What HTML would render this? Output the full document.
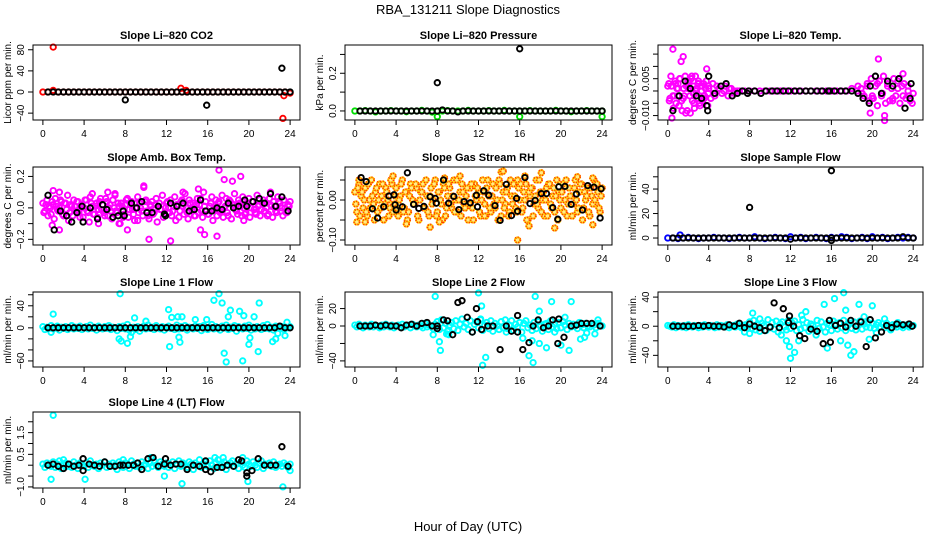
<!DOCTYPE html>
<html><head><meta charset="utf-8"><title>RBA_131211 Slope Diagnostics</title>
<style>html,body{margin:0;padding:0;background:#fff}svg{display:block;font-family:"Liberation Sans",Arial,sans-serif}</style>
</head><body>
<svg id="chart" width="936" height="540" viewBox="0 0 936 540" xmlns="http://www.w3.org/2000/svg">
<rect width="936" height="540" fill="#fff"/>
<text x="468" y="14" text-anchor="middle" font-size="13">RBA_131211  Slope Diagnostics</text>
<text x="468" y="531" text-anchor="middle" font-size="13">Hour of Day (UTC)</text>
</svg>
<script>
const HOURS=[0,0.5,1,1.5,2,2.5,3,3.5,4,4.5,5,5.5,6,6.5,7,7.5,8,8.5,9,9.5,10,10.5,11,11.5,12,12.5,13,13.5,14,14.5,15,15.5,16,16.5,17,17.5,18,18.5,19,19.5,20,20.5,21,21.5,22,22.5,23,23.5,24];
const BLACK_HOURS=[0.5,1,1.5,2,2.5,3,3.5,4,4.5,5,5.5,6,6.5,7,7.5,8,8.5,9,9.5,10,10.5,11,11.5,12,12.5,13,13.5,14,14.5,15,15.5,16,16.5,17,17.5,18,18.5,19,19.5,20,20.5,21,21.5,22,22.5,23,23.5,24];
const GRID_A=[0,0.2,0.4,0.6,0.8,1,1.2,1.4,1.6,1.8,2,2.2,2.4,2.6,2.8,3,3.2,3.4,3.6,3.8,4,4.2,4.4,4.6,4.8,5,5.2,5.4,5.6,5.8,6,6.2,6.4,6.6,6.8,7,7.2,7.4,7.6,7.8,8,8.2,8.4,8.6,8.8,9,9.2,9.4,9.6,9.8,10,10.2,10.4,10.6,10.8,11,11.2,11.4,11.6,11.8,12,12.2,12.4,12.6,12.8,13,13.2,13.4,13.6,13.8,14,14.2,14.4,14.6,14.8,15,15.2,15.4,15.6,15.8,16,16.2,16.4,16.6,16.8,17,17.2,17.4,17.6,17.8,18,18.2,18.4,18.6,18.8,19,19.2,19.4,19.6,19.8,20,20.2,20.4,20.6,20.8,21,21.2,21.4,21.6,21.8,22,22.2,22.4,22.6,22.8,23,23.2,23.4,23.6,23.8,24];
const GRID_B=[0.1,0.3,0.5,0.7,0.9,1.1,1.3,1.5,1.7,1.9,2.1,2.3,2.5,2.7,2.9,3.1,3.3,3.5,3.7,3.9,4.1,4.3,4.5,4.7,4.9,5.1,5.3,5.5,5.7,5.9,6.1,6.3,6.5,6.7,6.9,7.1,7.3,7.5,7.7,7.9,8.1,8.3,8.5,8.7,8.9,9.1,9.3,9.5,9.7,9.9,10.1,10.3,10.5,10.7,10.9,11.1,11.3,11.5,11.7,11.9,12.1,12.3,12.5,12.7,12.9,13.1,13.3,13.5,13.7,13.9,14.1,14.3,14.5,14.7,14.9,15.1,15.3,15.5,15.7,15.9,16.1,16.3,16.5,16.7,16.9,17.1,17.3,17.5,17.7,17.9,18.1,18.3,18.5,18.7,18.9,19.1,19.3,19.5,19.7,19.9,20.1,20.3,20.5,20.7,20.9,21.1,21.3,21.5,21.7,21.9,22.1,22.3,22.5,22.7,22.9,23.1,23.3,23.5,23.7,23.9];
const X_TICKS=[0,4,8,12,16,20,24];

const CO2_RED=[0,0,3,0,0,0,0,0,0,0,0,0,0,0,0,0,0,0,0,0,0,0,0,0,0,0,0,0,0,0,0,0,0,0,0,0,0,0,0,0,0,0,0,0,0,0,0,0,-2];
const CO2_RED_OUT_X=[1.0,13.4,13.9,23.3,23.4];
const CO2_RED_OUT_Y=[85,7,3,-50,-7];
const CO2_BLACK=[0,0,0,0,0,0,0,0,0,0,0,0,0,0,0,0,0,0,0,0,0,0,0,0,0,0,0,0,0,0,0,0,0,0,0,0,0,0,0,0,0,0,0,0,0,0,0,0];
const CO2_BLACK_OUT_X=[8.0,15.9,23.2];
const CO2_BLACK_OUT_Y=[-15,-25,45];
const PRES_GREEN=[0,0,0.002,0,-0.005,0,0,0.002,0,0,-0.004,0,0,0.003,0,-0.006,0,0,0.002,0,0,0,0.003,0,0,0,0.002,0,0,0.003,0,0,0,0,0.002,0,0,0,0,0.003,0,0,-0.004,0,0,0.002,0,0,0];
const PRES_GREEN_OUT_X=[8,16,24];
const PRES_GREEN_OUT_Y=[-0.03,-0.03,-0.03];
const PRES_BLACK=[0,0,0,0,0,0,0,0,0,0,0,0,0,0,0,0,0.005,0,0,-0.005,0,0,0,0,0,0,0,0,0,0,0,0,0,0,0,0,0,0,0,0,0,0,0,0,0,0,0,0];
const PRES_BLACK_OUT_X=[8,16];
const PRES_BLACK_OUT_Y=[0.15,0.33];
const TEMP_M1_X=[0.1,0.2,0.3,0.4,0.5,0.6,0.7,0.8,0.9,1.0,1.1,1.2,1.3,1.4,1.5,1.6,1.7,1.8,1.9,2.0,2.1,2.2,2.3,2.4,2.5,2.6,2.7,2.8,2.9,3.0,3.1,3.2,3.3,3.4,3.5,3.6,3.7,3.8,3.9,4.0,4.2,4.4,4.6,4.8,5.0,5.3,5.6,5.9,6.2,6.5,6.8];
const TEMP_M1_Y=[0.003,-0.003,0.006,-0.011,0.017,-0.002,0.004,-0.005,0.001,0.003,-0.006,0.005,0.012,-0.008,0.014,-0.002,0.006,0.002,-0.008,0.001,0.004,-0.009,0.005,-0.004,0.002,-0.007,0.006,0.001,-0.003,0.004,-0.005,0.002,0.000,-0.004,0.003,-0.002,0.001,0.009,-0.006,0.002,-0.003,0.003,-0.002,0.002,0.001,-0.001,0.002,-0.002,0.001,-0.001,0.000];
const TEMP_M2_X=[0.15,0.35,0.55,0.75,0.95,1.15,1.35,1.55,1.75,1.95,2.15,2.35,2.55,2.75,2.95,3.15,3.35,3.55,3.75,3.95,18.6,18.9,19.2,19.5,19.7,19.9,20.1,20.3,20.5,20.7,20.9,21.1,21.3,21.5,21.7,21.9,22.1,22.3,22.5,22.7,22.9,23.1,23.3,23.5,23.7,23.9,19.0,19.8,20.0,20.6,21.2,21.2,22.0,23.0,23.6];
const TEMP_M2_Y=[-0.004,0.002,-0.007,0.003,-0.002,0.005,-0.004,0.001,-0.009,0.004,-0.002,0.006,-0.005,0.000,0.003,-0.006,0.002,-0.003,0.004,-0.001,0.002,0.001,-0.002,0.003,-0.004,0.005,-0.003,0.002,-0.006,0.004,-0.002,0.006,-0.005,0.003,-0.004,0.001,0.005,-0.002,0.004,-0.005,0.002,0.003,-0.003,0.000,-0.004,-0.005,-0.001,-0.009,-0.003,0.013,-0.010,-0.012,-0.004,0.007,-0.002];
const TEMP_BAND=[0.002,-0.002,0.001,-0.003,0.002,-0.001,0.003,-0.002,0.001,-0.001,0.001,0.000,0.001,0.000,0.000,0.000,0.000,0.000,0.000,0.000,0.000,0.000,0.000,0.000,0.000,0.000,0.000,0.000,0.000,0.000,0.000,0.000,0.000,0.000,0.000,0.000,0.001,0.000,-0.001,0.002,-0.002,0.003,-0.001,0.002,-0.003,0.001,-0.002,0.002,-0.001];
const TEMP_BLACK_X=[0.5,1.1,1.7,2.2,2.8,3.3,3.8,3.9,4.0,4.6,5.2,5.7,6.3,6.8,7.3,7.8,7.9,8.5,9.1,9.6,10.2,10.7,11.3,11.8,12.4,12.9,13.5,14.0,14.6,15.1,15.7,15.8,16.3,16.9,17.4,18.0,18.6,19.1,19.7,19.8,20.3,20.9,21.5,22.0,22.6,23.2,23.7,23.8];
const TEMP_BLACK_Y=[-0.008,-0.002,0.004,0.001,-0.002,-0.003,-0.006,-0.008,0.006,-0.001,0.002,0.003,-0.002,-0.001,0.000,-0.001,0.000,0.000,-0.001,0.000,0.000,0.000,0.000,0.000,0.000,0.000,0.000,0.000,0.000,0.000,0.000,0.000,0.000,0.000,0.000,0.000,-0.001,-0.003,-0.005,0.002,0.006,-0.001,0.004,0.002,0.005,-0.007,-0.003,0.003];
const AMB_A=[0.03,-0.02,0.05,0.01,-0.04,0.02,0.06,-0.01,0.00,0.04,-0.05,0.03,0.08,-0.03,0.01,0.05,-0.02,0.04,-0.06,0.02,0.00,0.05,-0.03,0.07,0.01,-0.04,0.03,-0.01,0.06,0.02,-0.05,0.04,0.00,-0.02,0.05,0.09,-0.03,0.01,0.03,-0.06,0.02,0.06,-0.01,0.04,-0.04,0.00,0.07,0.03,-0.02,0.13,0.05,-0.05,0.02,0.04,-0.03,0.06,0.01,-0.01,0.08,-0.04,0.03,0.00,0.05,-0.02,0.07,0.02,-0.06,0.04,0.01,0.09,-0.03,0.05,0.00,0.03,-0.05,0.06,0.02,-0.02,0.10,0.04,-0.04,0.01,0.07,-0.01,0.05,0.03,-0.03,0.08,0.00,0.06,-0.05,0.04,0.02,0.09,-0.02,0.05,0.01,0.07,-0.04,0.03,0.06,0.00,0.04,-0.03,0.08,0.02,-0.01,0.05,0.03,-0.05,0.06,0.01,0.04,-0.02,0.07,0.03,0.00,0.05,-0.03,0.02,0.04];
const AMB_B=[-0.03,0.02,-0.05,0.00,0.04,-0.07,0.01,-0.02,0.05,-0.04,0.03,-0.01,-0.08,0.02,-0.05,0.01,0.04,-0.03,0.00,-0.06,0.05,-0.02,-0.09,0.03,-0.04,0.01,-0.06,0.04,-0.01,-0.03,0.06,-0.05,0.02,-0.07,0.00,-0.02,0.03,-0.10,0.01,-0.04,0.05,-0.06,0.02,-0.01,-0.08,0.03,-0.03,0.00,-0.05,0.04,-0.02,-0.07,0.01,-0.04,0.02,-0.09,0.03,-0.01,-0.06,0.00,0.04,-0.03,-0.05,0.01,-0.08,0.02,-0.02,0.05,-0.04,0.00,-0.07,0.03,-0.01,-0.05,0.02,-0.03,0.06,-0.06,0.01,-0.02,-0.04,0.03,-0.08,0.00,-0.05,0.04,-0.02,-0.06,0.01,-0.03,0.05,-0.07,0.02,-0.01,-0.04,0.03,-0.05,0.00,-0.03,0.02,-0.06,0.04,-0.01,-0.04,0.01,-0.05,0.03,-0.02,0.00,-0.04,0.02,-0.06,0.01,-0.03,0.04,-0.02,-0.05,0.00,-0.03,0.01];
const AMB_OUT_X=[1.0,1.6,0.9,1.6,4.8,6.3,7.0,8.2,9.8,10.3,12.4,13.6,15.1,15.3,15.7,16.9,17.1,17.6,18.4,19.2,19.5,22.1,7.4,5.4,9.2];
const AMB_OUT_Y=[0.11,0.10,-0.11,-0.14,0.09,0.10,0.08,-0.14,0.14,-0.20,-0.21,0.10,0.12,-0.14,-0.17,-0.18,0.24,0.18,0.17,0.20,-0.08,0.10,-0.10,-0.10,-0.08];
const AMB_BLACK_X=[0.5,1.1,1.7,2.3,2.8,3.3,3.8,3.9,4.6,5.3,5.8,6.2,6.8,7.3,7.8,7.9,8.6,9.1,9.6,10.1,10.6,11.2,11.8,11.9,12.4,13.0,13.6,14.2,14.7,15.3,15.8,16.4,16.9,17.4,18.0,18.5,19.0,19.6,19.8,20.4,21.0,21.5,22.1,22.6,23.2,23.8];
const AMB_BLACK_Y=[0.08,-0.14,-0.02,-0.05,-0.09,-0.03,0.01,-0.09,0.0,-0.07,0.02,-0.01,-0.06,-0.05,-0.02,-0.05,0.03,0.0,0.04,-0.03,-0.03,0.01,-0.04,-0.05,0.03,0.01,0.03,-0.02,-0.01,0.05,-0.02,-0.02,0.0,-0.01,0.03,0.0,0.01,0.05,0.01,0.04,0.06,0.03,0.09,0.01,0.07,-0.02];
const RH_A=[0.02,-0.03,0.04,0.01,-0.02,0.03,-0.04,0.00,0.05,-0.01,0.02,-0.03,0.04,0.01,-0.05,0.03,0.00,-0.02,0.04,-0.01,0.03,-0.04,0.01,0.05,-0.02,0.02,-0.03,0.04,0.00,-0.01,0.03,-0.05,0.02,0.04,-0.02,0.01,-0.04,0.03,0.00,0.05,-0.03,0.02,-0.01,0.04,-0.04,0.01,0.03,-0.02,0.05,0.00,-0.03,0.02,0.04,-0.01,0.01,-0.05,0.03,-0.02,0.04,0.00,0.02,-0.04,0.05,-0.01,0.03,0.01,-0.03,0.04,-0.02,0.00,0.05,-0.04,0.02,-0.01,0.03,-0.03,0.01,0.04,-0.02,0.05,0.00,-0.03,0.02,0.04,-0.05,0.01,0.03,-0.01,0.05,-0.02,0.02,0.00,-0.04,0.03,0.04,-0.01,0.01,-0.03,0.05,0.02,-0.02,0.04,0.00,-0.04,0.03,0.01,-0.01,0.05,-0.03,0.02,0.04,-0.02,0.00,0.03,-0.04,0.01,0.05,-0.01,0.02,-0.03,0.03];
const RH_B=[-0.01,0.03,-0.04,0.02,0.00,-0.03,0.04,-0.02,0.01,-0.05,0.03,0.00,-0.02,0.04,-0.01,0.02,-0.04,0.05,-0.03,0.01,-0.02,0.00,0.04,-0.03,0.02,-0.05,0.01,0.03,-0.01,0.04,-0.04,0.00,0.02,-0.02,0.05,-0.03,0.01,-0.01,0.04,-0.04,0.02,0.00,-0.05,0.03,-0.02,0.04,-0.01,0.01,-0.03,0.05,0.00,-0.04,0.02,-0.02,0.03,-0.01,0.04,-0.05,0.01,0.03,-0.03,0.00,0.02,-0.04,0.05,-0.02,0.01,-0.01,0.03,-0.05,0.04,0.00,-0.02,0.02,-0.04,0.05,-0.01,0.01,-0.03,0.03,0.04,-0.02,0.00,-0.05,0.02,0.03,-0.04,0.01,-0.01,0.05,-0.03,0.02,0.00,-0.04,0.04,-0.02,0.03,0.01,-0.05,0.00,0.02,-0.03,0.05,-0.01,0.01,-0.04,0.03,0.00,-0.02,0.04,-0.05,0.02,0.01,-0.03,0.03,-0.01,0.00,0.04,-0.02,0.01];
const RH_OUT_X=[0.2,0.4,1.0,5.0,7.3,8.2,8.7,10.2,12.6,14.2,14.4,15.8,16.5,16.9,18.1,19.4,21.6,23.1,23.1,3.7];
const RH_OUT_Y=[-0.055,0.05,-0.055,-0.06,-0.068,-0.055,0.055,0.06,-0.04,0.07,0.072,-0.1,0.06,-0.065,0.068,-0.07,0.058,-0.062,0.055,0.06];
const RH_BLACK_X=[0.6,1.1,1.7,2.2,2.8,3.3,3.8,3.9,4.0,4.6,5.1,5.7,6.2,6.7,7.3,7.8,7.9,8.6,9.1,9.6,10.1,10.6,11.2,11.8,11.9,12.5,13.0,13.6,14.1,14.7,15.2,15.7,15.8,16.5,17.0,17.5,18.1,18.6,19.2,19.7,19.8,20.4,21.0,21.5,22.1,22.6,23.2,23.8,23.9];
const RH_BLACK_Y=[0.056,0.046,-0.022,-0.045,-0.017,0.01,0.013,-0.012,-0.025,-0.017,0.068,-0.011,-0.021,-0.016,0.008,0.004,-0.008,0.05,-0.008,0.009,-0.024,-0.004,-0.007,0.012,-0.017,0.023,0.012,-0.014,-0.051,0.039,-0.039,0.004,-0.028,0.056,-0.009,-0.001,0.016,0.016,-0.019,-0.048,0.033,0.034,-0.011,0.015,-0.025,0.036,0.032,-0.045,0.028];
const SF_BLUE=[0,0,-0.5,0,0.5,0,-0.5,0,0,0.5,0,0,-0.5,0,0.5,0,0,1,0,-0.5,0,0.5,0,-0.5,1,0,0.5,-0.5,0,0.5,0,-0.5,0.5,0,1,0.5,-0.5,0,0.5,-0.5,1,0,0.5,-0.5,0,0.5,0,0.5,0];
const SF_BLUE_OUT_X=[1.2];
const SF_BLUE_OUT_Y=[2.5];
const SF_BLACK=[0,0,0,0,0,0,0,0,0,0,0,0,0,0,0,0,0,0,0,0,0,0,0,-1,0,0,0,0,0,0,0,0,0,0,0,0,0,0,0,0,0,0,0,0,0,1,0,0];
const SF_BLACK_OUT_X=[8,16,16];
const SF_BLACK_OUT_Y=[25,55,-2];
const L1_CYAN=[2,-3,1,-1,4,-2,0,3,-4,1,-1,2,-3,0,4,-2,1,-1,3,-3,0,2,-2,5,-1,1,-4,3,0,-2,2,-1,4,-3,1,0,-5,2,-1,3,-2,6,-4,-8,1,-3,2,-6,0,3,-2,5,-1,1,-3,4,0,-2,2,-4,1,3,-1,0,-3,5,-2,2,-1,4,-4,1,0,-2,3,-1,2,-5,4,0,-3,1,6,-2,2,-1,-4,3,0,5,-3,1,-1,4,-6,2,0,-2,3,-1,5,-4,1,-2,2,0,-3,4,-1,6,-2,1,-4,3,0,-1,2,-3,1,0,2];
const L1_OUT_X=[1.0,0.8,7.5,7.4,7.6,8.2,8.5,8.9,10.0,12.2,12.3,12.5,13.1,13.3,13.2,13.5,14.8,15.9,16.6,17.1,17.4,17.6,17.8,18.0,18.2,19.1,19.5,19.4,20.0,20.1,20.5,20.9,21.0,22.3,22.6,22.8,23.5,23.7];
const L1_OUT_Y=[25,-8,62,-20,-24,-28,-16,18,12,33,-34,19,20,-26,-17,20,15,15,50,62,45,-46,-62,20,32,30,22,-60,-30,-18,20,-43,45,-25,-20,-10,-14,10];
const L1_BLACK=[0,0,0,0,0,0,0,0,0,0,0,0,0,0,0,0,0,0,0,0,0,0,0,0,0,0,0,0,0,0,0,0,0,0,0,0,0,0,0,0,0,0,0,0,0,3,0,0];
const L2_CYAN=[1,-1,2,0,-2,1,0,-1,2,-1,1,0,-2,1,-1,2,0,-1,1,-2,0,1,-1,2,-1,0,1,-2,2,0,-1,1,0,-2,3,-1,1,0,-3,2,5,-4,7,-2,3,-6,1,4,-3,6,-5,2,8,-1,3,-4,6,-7,2,5,-2,7,-5,1,4,-3,6,-6,3,0,-4,5,-2,7,-3,1,6,-5,2,-1,4,-7,3,6,-2,1,-5,4,-3,5,0,-6,2,3,-4,6,-1,2,-3,4,-2,5,1,-4,3,-1,2,0,-3,4,1,-2,3,0,-1,2,1,-2,3,1,0];
const L2_OUT_X=[7.6,7.8,8.2,8.3,8.9,9.1,12.0,12.3,12.4,12.7,12.2,14.7,16.3,16.9,17.2,17.3,17.5,17.9,17.9,18.6,19.1,19.4,20.0,20.4,20.8,21.0,21.9,22.3,22.5,23.3,23.6];
const L2_OUT_Y=[-10,34,-18,-28,-9,-10,38,23,-45,-36,8,-7,-14,-34,-17,-42,34,-20,17,-25,28,-7,-22,10,-28,28,-15,-13,-8,-9,7];
const L2_BLACK_X=[0.5,1.0,1.5,2.0,2.5,3.0,3.5,4.0,4.5,5.0,5.5,6.0,6.5,7.0,7.5,8.0,8.0,8.6,9.0,9.5,10.0,10.4,10.9,11.4,11.8,11.9,12.3,12.9,13.4,14.1,14.7,15.2,15.8,15.8,16.3,16.9,17.3,17.8,18.3,18.8,19.2,19.7,19.8,20.3,21.0,21.5,22.0,22.5,23.0,23.8];
const L2_BLACK_Y=[0,0,0,1,0,1,0,0,-2,1,2,0,3,4,0,-3,0,7,6,-10,27,29,10,-7,20,5,-4,0,0,-27,0,-6,12,-7,-27,-19,0,7,-2,0,7,-20,8,-13,0,1,3,3,3,0];
const L3_CYAN=[1,0,-1,2,-2,1,0,-1,1,-2,2,0,-1,1,0,-2,1,-1,2,0,-1,1,0,-2,2,-1,1,0,-1,2,-2,0,1,-1,3,0,-2,1,2,-3,6,-3,8,-5,2,-7,4,1,-6,9,-2,5,-4,7,-8,3,6,-1,-5,8,-3,4,7,-6,2,-4,9,-2,5,-7,3,1,-5,8,-3,6,-1,-8,4,2,-6,7,3,-4,5,-2,8,-6,1,4,-3,6,-5,2,7,-4,3,-1,5,-2,4,-3,2,5,-1,3,-2,4,0,-3,2,1,-1,3,0,-2,1,2,-1,0,1];
const L3_OUT_X=[7.5,8.0,8.3,9.0,11.1,11.6,11.9,12.0,12.4,12.8,13.1,13.5,14.5,15.3,15.6,16.3,16.9,17.2,17.4,17.6,17.9,18.2,18.7,19.2,19.7,20.0,20.4,21.2,21.8,22.5];
const L3_OUT_Y=[-8,-10,18,10,-12,-20,-28,-44,-36,-20,15,20,-12,30,-30,38,-20,46,22,-26,-40,-35,30,13,-18,28,-9,10,-5,5];
const L3_BLACK_X=[0.5,1.0,1.5,2.0,2.5,3.0,3.5,4.0,4.5,5.0,5.5,6.0,6.5,7.0,7.5,8.0,8.5,9.0,9.5,10.0,10.4,10.9,11.3,11.8,11.9,12.3,12.9,13.4,14.0,14.6,15.2,15.8,15.9,16.4,16.9,17.4,17.9,18.4,18.9,19.4,19.8,20.3,20.9,21.4,21.9,22.4,23.0,23.6,23.9];
const L3_BLACK_Y=[0,0,0,0,0,1,0,1,0,0,-1,2,0,4,-2,3,0,-2,-6,-1,32,-2,24,5,14,0,-13,-17,-4,-7,-24,8,-22,1,4,-1,8,0,6,-28,9,-16,-8,1,-2,3,2,3,0];
const L4_CYAN=[0.05,-0.1,0.1,0.0,-0.05,0.15,-0.1,0.05,0.2,-0.15,0.0,0.1,-0.05,0.05,-0.1,0.15,0.0,-0.15,0.1,0.05,-0.05,0.1,-0.1,0.2,0.0,-0.05,0.05,-0.15,0.1,0.0,0.15,-0.1,0.05,-0.05,0.1,0.0,-0.2,0.15,0.05,-0.1,0.1,0.0,-0.15,0.2,0.05,-0.05,0.1,-0.1,0.15,0.0,0.05,-0.15,0.1,-0.05,0.2,0.0,-0.1,0.15,0.05,-0.05,0.1,-0.1,0.0,0.15,-0.15,0.05,0.2,-0.05,0.1,0.0,-0.1,0.15,0.05,-0.2,0.1,0.0,0.25,-0.1,0.05,0.15,-0.05,0.2,0.0,-0.15,0.1,0.25,-0.1,0.05,0.15,-0.2,0.0,0.1,0.2,-0.05,0.05,-0.15,0.15,0.0,-0.1,0.2,0.05,-0.05,0.15,0.0,-0.1,0.1,0.2,-0.15,0.05,0.0,0.1,-0.05,0.15,-0.1,0.0,0.05,-0.05,0.1,0.0,-0.1,0.05];
const L4_OUT_X=[1.0,0.8,2.0,4.1,7.8,10.5,11.8,13.5,16.7,17.5,19.9,23.3,24.0,19.4];
const L4_OUT_Y=[2.3,-0.65,0.25,-0.65,0.25,0.35,-0.5,-0.85,0.35,0.35,-0.75,-1.0,-0.25,0.35];
const L4_BLACK_X=[0.5,1.0,1.5,2.0,2.5,3.0,3.5,3.9,3.9,4.5,5.0,5.5,6.0,6.5,7.0,7.5,7.8,8.3,8.8,9.2,9.6,10.2,10.7,11.2,11.8,11.9,12.4,12.9,13.4,14.0,14.6,15.2,15.8,15.8,16.3,16.9,17.4,17.9,18.5,19.0,19.3,19.8,19.8,20.3,20.9,21.5,22.1,22.6,23.2,23.8];
const L4_BLACK_Y=[0.0,0.05,-0.05,-0.15,0.05,-0.05,0.0,0.3,-0.25,0.05,0.0,-0.05,0.15,-0.05,-0.05,0.0,0.0,0.0,0.0,0.1,-0.2,0.3,0.35,-0.05,0.05,0.3,0.0,0.05,0.05,-0.2,0.0,-0.05,0.2,-0.2,-0.3,-0.1,-0.1,0.0,-0.05,0.25,0.2,-0.35,-0.5,-0.25,0.3,0.0,0.0,0.0,0.85,-0.05];

const NS="http://www.w3.org/2000/svg";
const svg=document.getElementById('chart');
function mk(tag,attrs,parent){const e=document.createElementNS(NS,tag);for(const k in attrs)e.setAttribute(k,attrs[k]);(parent||svg).appendChild(e);return e;}

const COLS=[[33,300],[345,612],[658,923]];
const ROWS=[[45,120],[167,245],[292,367],[412,488]];
const PANELS=[
 {name:'co2',title:'Slope Li\u2013820 CO2',ylab:'Licor ppm per min.',c:0,r:0,ymin:-53,ymax:89,ticks:[-40,0,40,80],labels:[-40,0,40,80],fmt:0,
  series:[{x:HOURS,y:CO2_RED,col:'#ff0000'},{x:CO2_RED_OUT_X,y:CO2_RED_OUT_Y,col:'#ff0000'},{x:BLACK_HOURS,y:CO2_BLACK,col:'#000'},{x:CO2_BLACK_OUT_X,y:CO2_BLACK_OUT_Y,col:'#000'}]},
 {name:'pressure',title:'Slope Li\u2013820 Pressure',ylab:'kPa per min.',c:1,r:0,ymin:-0.048,ymax:0.35,ticks:[0,0.1,0.2,0.3],labels:[0,0.2],fmt:1,
  series:[{x:HOURS,y:PRES_GREEN,col:'#00dd00'},{x:PRES_GREEN_OUT_X,y:PRES_GREEN_OUT_Y,col:'#00dd00'},{x:BLACK_HOURS,y:PRES_BLACK,col:'#000'},{x:PRES_BLACK_OUT_X,y:PRES_BLACK_OUT_Y,col:'#000'}]},
 {name:'li820-temp',title:'Slope Li\u2013820 Temp.',ylab:'degrees C per min.',c:2,r:0,ymin:-0.0118,ymax:0.0187,ticks:[-0.01,-0.005,0,0.005,0.01,0.015],labels:[-0.01,0.005],fmt:3,
  series:[{x:TEMP_M1_X,y:TEMP_M1_Y,col:'#ff00ff'},{x:TEMP_M2_X,y:TEMP_M2_Y,col:'#ff00ff'},{x:HOURS,y:TEMP_BAND,col:'#ff00ff'},{x:TEMP_BLACK_X,y:TEMP_BLACK_Y,col:'#000'}]},
 {name:'amb-box-temp',title:'Slope Amb. Box Temp.',ylab:'degrees C per min.',c:0,r:1,ymin:-0.236,ymax:0.26,ticks:[-0.2,-0.1,0,0.1,0.2],labels:[-0.2,0,0.2],fmt:1,
  series:[{x:GRID_A,y:AMB_A,col:'#ff00ff'},{x:GRID_B,y:AMB_B,col:'#ff00ff'},{x:AMB_OUT_X,y:AMB_OUT_Y,col:'#ff00ff'},{x:AMB_BLACK_X,y:AMB_BLACK_Y,col:'#000'}]},
 {name:'gas-stream-rh',title:'Slope Gas Stream RH',ylab:'percent per min.',c:1,r:1,ymin:-0.1125,ymax:0.0825,ticks:[-0.1,-0.05,0,0.05],labels:[-0.1,0],fmt:2,
  series:[{x:GRID_A,y:RH_A,col:'orange'},{x:GRID_B,y:RH_B,col:'orange'},{x:RH_OUT_X,y:RH_OUT_Y,col:'orange'},{x:RH_BLACK_X,y:RH_BLACK_Y,col:'#000'}]},
 {name:'sample-flow',title:'Slope Sample Flow',ylab:'ml/min per min.',c:2,r:1,ymin:-5.7,ymax:58,ticks:[0,10,20,30,40,50],labels:[0,20,40],fmt:0,
  series:[{x:HOURS,y:SF_BLUE,col:'#0000ff'},{x:SF_BLUE_OUT_X,y:SF_BLUE_OUT_Y,col:'#0000ff'},{x:BLACK_HOURS,y:SF_BLACK,col:'#000'},{x:SF_BLACK_OUT_X,y:SF_BLACK_OUT_Y,col:'#000'}]},
 {name:'line-1-flow',title:'Slope Line 1 Flow',ylab:'ml/min per min.',c:0,r:2,ymin:-71,ymax:65,ticks:[-60,-40,-20,0,20,40,60],labels:[-60,0,40],fmt:0,
  series:[{x:GRID_A,y:L1_CYAN,col:'#00ffff'},{x:L1_OUT_X,y:L1_OUT_Y,col:'#00ffff'},{x:BLACK_HOURS,y:L1_BLACK,col:'#000'}]},
 {name:'line-2-flow',title:'Slope Line 2 Flow',ylab:'ml/min per min.',c:1,r:2,ymin:-47,ymax:39,ticks:[-40,-20,0,20],labels:[-40,0,20],fmt:0,
  series:[{x:GRID_A,y:L2_CYAN,col:'#00ffff'},{x:L2_OUT_X,y:L2_OUT_Y,col:'#00ffff'},{x:L2_BLACK_X,y:L2_BLACK_Y,col:'#000'}]},
 {name:'line-3-flow',title:'Slope Line 3 Flow',ylab:'ml/min per min.',c:2,r:2,ymin:-56,ymax:47,ticks:[-40,-20,0,20,40],labels:[-40,0,40],fmt:0,
  series:[{x:GRID_A,y:L3_CYAN,col:'#00ffff'},{x:L3_OUT_X,y:L3_OUT_Y,col:'#00ffff'},{x:L3_BLACK_X,y:L3_BLACK_Y,col:'#000'}]},
 {name:'line-4-flow',title:'Slope Line 4 (LT) Flow',ylab:'ml/min per min.',c:0,r:3,ymin:-1.05,ymax:2.45,ticks:[-1,-0.5,0,0.5,1,1.5,2],labels:[-1,0.5,1.5],fmt:1,
  series:[{x:GRID_A,y:L4_CYAN,col:'#00ffff'},{x:L4_OUT_X,y:L4_OUT_Y,col:'#00ffff'},{x:L4_BLACK_X,y:L4_BLACK_Y,col:'#000'}]}
];

function fmtNum(v,d){const s=Math.abs(v).toFixed(d);return (v<0?'\u2212':'')+s;}

PANELS.forEach(p=>{
  const [L,R]=COLS[p.c],[T,B]=ROWS[p.r];
  const xS=v=>L+(v-(-0.96))/(24.96-(-0.96))*(R-L);
  const yS=v=>B-(v-p.ymin)/(p.ymax-p.ymin)*(B-T);
  const g=mk('g',{});
  
  
  const t=mk('text',{x:(L+R)/2,y:T-6,'text-anchor':'middle','font-size':11,'font-weight':'bold'},g);
  t.textContent=p.title;
  
  
  const marks=mk('g',{fill:'none','stroke-width':1.9},g);
  
  
  p.series.forEach(s=>{
    const n=Math.min(s.x.length,s.y.length);
    for(let i=0;i<n;i++){
      const cx=xS(s.x[i]),cy=yS(s.y[i]);
      if(cy<T-2||cy>B+2) continue;
      const c=mk('circle',{cx:cx.toFixed(1),cy:cy.toFixed(1),r:2.7,stroke:s.col==='orange'?'#ffcc00':s.col,fill:s.col==='orange'?'#ffee88':'none'},marks);
      
      
      if(s.col==='orange'){
        const c2=mk('circle',{cx:cx.toFixed(1),cy:cy.toFixed(1),r:2.7,stroke:'#ff3300','stroke-dasharray':'1 1.5'},marks);
        
        
      }
    }
  });
  const box=mk('rect',{x:L,y:T,width:R-L,height:B-T,fill:'none',stroke:'#000','stroke-width':1},g);
  
  
  const xa=mk('g',{stroke:'#000','stroke-width':1},g);
  
  
  mk('line',{x1:xS(0),x2:xS(24),y1:B,y2:B},xa);
  X_TICKS.forEach(v=>{
    mk('line',{x1:xS(v),x2:xS(v),y1:B,y2:B+5},xa);
    const lt=mk('text',{x:xS(v),y:B+17,'text-anchor':'middle','font-size':10,stroke:'none',fill:'#000'},xa);
    lt.textContent=v;
    
    
  });
  const ya=mk('g',{stroke:'#000','stroke-width':1},g);
  
  
  const tk=p.ticks.filter(v=>yS(v)>=T-1&&yS(v)<=B+1);
  mk('line',{x1:L,x2:L,y1:yS(tk[0]),y2:yS(tk[tk.length-1])},ya);
  tk.forEach(v=>{ mk('line',{x1:L-5,x2:L,y1:yS(v),y2:yS(v)},ya); });
  p.labels.forEach(v=>{
    const yy=yS(v);
    const lt=mk('text',{x:L-9,y:yy,'text-anchor':'middle','font-size':10,stroke:'none',fill:'#000',transform:'rotate(-90 '+(L-9)+' '+yy+')'},ya);
    lt.textContent=fmtNum(v,p.fmt);
    
    
  });
  const yl=mk('text',{x:L-22,y:(T+B)/2,'text-anchor':'middle','font-size':10,transform:'rotate(-90 '+(L-22)+' '+((T+B)/2)+')'},g);
  yl.textContent=p.ylab;
  
  
});
</script>
</body></html>
